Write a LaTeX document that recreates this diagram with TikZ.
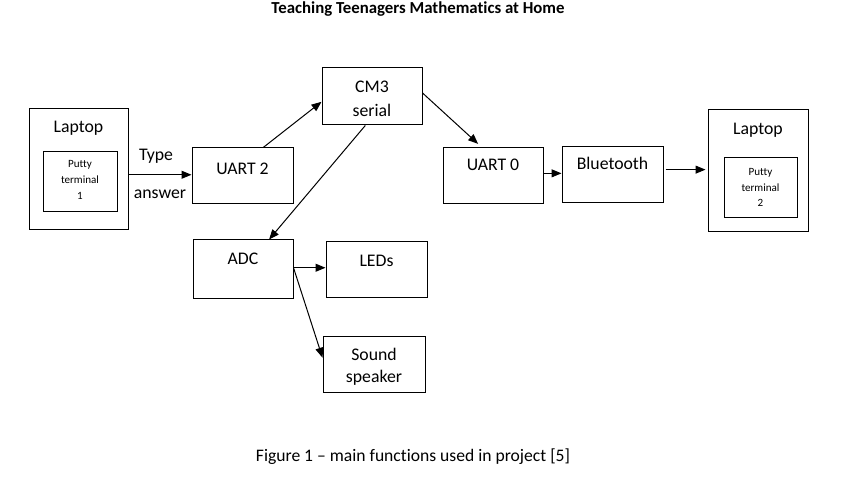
\documentclass[tikz,border=0pt]{standalone}
\usepackage{fontspec}
\setmainfont[Ligatures={TeX,NoCommon}]{Carlito}
\usetikzlibrary{fit,arrows.meta}

\tikzset{
  box/.style={draw, line width=0.75pt, inner sep=0pt},
  txt/.style={anchor=base, inner sep=0pt, font=\fontsize{13.3}{16}\selectfont},
  small/.style={anchor=base, inner sep=0pt, font=\fontsize{8.3}{10}\selectfont},
  conn/.style={->, line width=0.75pt},
}

\begin{document}
\begin{tikzpicture}[x=0.75pt, y=-0.75pt, >={Triangle[length=7.5pt,width=6pt]}]
    \useasboundingbox (0,0) rectangle (860,477);
    \node[anchor=base, inner sep=0pt, font=\bfseries\fontsize{12.6}{15}\selectfont] (title) at (418,14) {Teaching Teenagers Mathematics at Home};

    % boxes
    \node[box, fit={(29,109) (128,230)}] (lap1) {};
    \node[box, fit={(43,152) (117,212)}] (putty1) {};
    \node[box, fit={(192,148) (293,204)}] (uart2) {};
    \node[box, fit={(322,68) (422,125)}] (cm3) {};
    \node[box, fit={(443,148) (543,204)}] (uart0) {};
    \node[box, fit={(562,147) (663,203)}] (bt) {};
    \node[box, fit={(708,110) (808,232)}] (lap2) {};
    \node[box, fit={(724,158) (797,218)}] (putty2) {};
    \node[box, fit={(193,240) (293,299)}] (adc) {};
    \node[box, fit={(326,242) (427,298)}] (leds) {};
    \node[box, fit={(323,336) (425,392)}] (sound) {};

    % texts
    \node[txt] (lap1t) at (78.5,133) {Laptop};
    \node[small] (putty1a) at (80,168) {Putty};
    \node[small] (putty1b) at (80,184) {terminal};
    \node[small] (putty1c) at (80,200) {1};
    \node[txt] (uart2t) at (242.5,175) {UART 2};
    \node[txt] (cm3a) at (372,93) {CM3};
    \node[txt] (cm3b) at (372,117) {serial};
    \node[txt] (uart0t) at (493,171) {UART 0};
    \node[txt] (btt) at (612.5,170) {Bluetooth};
    \node[txt] (lap2t) at (758,135) {Laptop};
    \node[small] (putty2a) at (760.5,176) {Putty};
    \node[small] (putty2b) at (760.5,192) {terminal};
    \node[small] (putty2c) at (760.5,207) {2};
    \node[txt] (adct) at (243,265) {ADC};
    \node[txt] (ledst) at (376.5,267) {LEDs};
    \node[txt] (sounda) at (374,360) {Sound};
    \node[txt] (soundb) at (374,382) {speaker};
    \node[txt] (typet) at (156,161) {Type};
    \node[txt] (answert) at (160,199) {answer};

    % connectors
    \draw[conn] (lap1.-6) -- (lap1.-6 -| uart2.west);
    \draw[conn] (uart2.54) -- (cm3.186);
    \draw[conn] (cm3.257) -- (adc.49);
    \draw[conn, shorten >=4pt] (cm3.4) -- (uart0.111);
    \draw[conn] (uart0.3) -- (uart0.3 -| bt.west);
    \draw[conn, shorten <=1.5pt, shorten >=1.5pt] (bt.6) -- (bt.6 -| lap2.west);
    \draw[conn] (adc.2) -- (adc.2 -| leds.west);
    \draw[conn] (adc.2) -- (sound.173);

    \node[anchor=base, inner sep=0pt, font=\fontsize{13.2}{16}\selectfont] (caption) at (413,461) {Figure 1 – main functions used in project [5]};
  \end{tikzpicture}
\end{document}
